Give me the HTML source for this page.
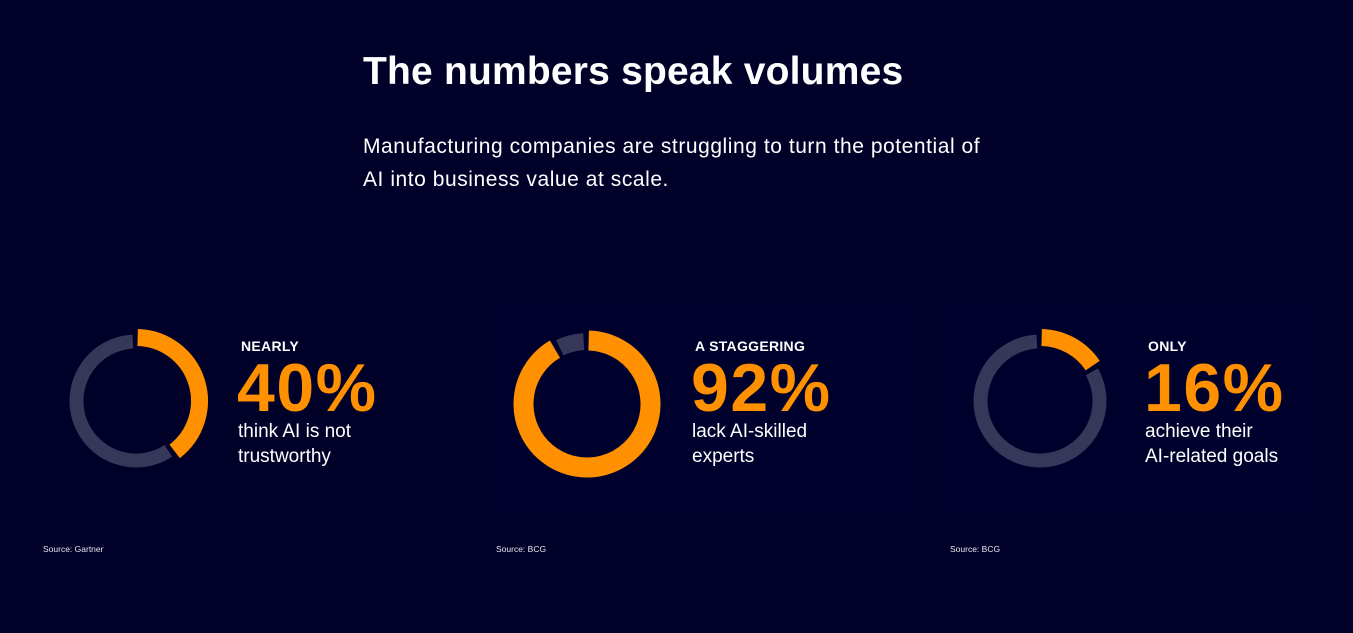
<!DOCTYPE html>
<html><head><meta charset="utf-8">
<style>
html,body{margin:0;padding:0;background:#000028;width:1353px;height:633px;overflow:hidden;font-family:"Liberation Sans",sans-serif;color:#fff}
.abs{position:absolute}
h1{position:absolute;left:363px;top:50px;margin:0;font-size:39px;font-weight:bold;letter-spacing:0.2px}
.intro{position:absolute;left:363px;top:130px;margin:0;font-size:21px;line-height:33px;width:625px;letter-spacing:0.55px}
.lbl{position:absolute;font-size:14px;font-weight:bold;letter-spacing:0.3px}
.big{position:absolute;font-size:68px;font-weight:bold;color:#ff9000;line-height:68px;letter-spacing:1.5px}
.desc{position:absolute;font-size:19px;line-height:25px}
.src{position:absolute;font-size:8.5px;color:#e8e8f0}
.panel{position:absolute;background:#00002c}
</style></head><body>
<h1>The numbers speak volumes</h1>
<p class="intro">Manufacturing companies are struggling to turn the potential of AI into business value at scale.</p>
<div class="panel" style="left:492px;top:305px;width:420px;height:208px"></div>
<div class="panel" style="left:945px;top:305px;width:378px;height:208px"></div>
<svg id="donuts" class="abs" style="left:0;top:0" width="1353" height="633"></svg>
<div id="texts"></div>
<script>
const values=[40,92,16];
const leads=["NEARLY","A STAGGERING","ONLY"];
const bigLabels=["40%","92%","16%"];
const descs=[["think AI is not","trustworthy"],["lack AI-skilled","experts"],["achieve their","AI-related goals"]];
const sources=["Source: Gartner","Source: BCG","Source: BCG"];
const cxs=[136,587,1040], cy=[401,404,401], txs=[238,692,1145], srcX=[43,496,950];
const NS="http://www.w3.org/2000/svg";
const svg=document.getElementById('donuts');
function pt(cx,cy,r,deg){const a=(deg-90)*Math.PI/180;return [cx+r*Math.cos(a),cy+r*Math.sin(a)];}
function arc(cx,cy,r,a0,a1,w,color,name){
  const p0=pt(cx,cy,r,a0),p1=pt(cx,cy,r,a1);const large=(a1-a0)>180?1:0;
  const p=document.createElementNS(NS,'path');
  p.setAttribute('d',`M${p0[0]} ${p0[1]} A${r} ${r} 0 ${large} 1 ${p1[0]} ${p1[1]}`);
  p.setAttribute('fill','none');p.setAttribute('stroke',color);p.setAttribute('stroke-width',w);
  
  
  svg.appendChild(p);
}
const texts=document.getElementById('texts');
values.forEach((v,i)=>{
  const deg=v*3.6,gap=3;
  const big=i===1;
  arc(cxs[i],cy[i],big?62.5:59.5,deg+gap,360-gap,big?17:14,'#37375a','donut-remainder-'+(i+1));
  arc(cxs[i],cy[i],big?63.5:63.5,gap/2,deg-gap/2,big?20:17,'#ff9000','donut-value-'+(i+1));
  let d=document.createElement('div');d.className='lbl';d.style.left=(txs[i]+3)+'px';d.style.top='338px';d.textContent=leads[i];
  
  texts.appendChild(d);
  d=document.createElement('div');d.className='big';d.style.left=(txs[i]-1)+'px';d.style.top='354px';d.textContent=bigLabels[i];
  
  texts.appendChild(d);
  d=document.createElement('div');d.className='desc';d.style.left=txs[i]+'px';d.style.top='419px';d.innerHTML=descs[i].join('<br>');
  
  texts.appendChild(d);
  d=document.createElement('div');d.className='src';d.style.left=srcX[i]+'px';d.style.top='544px';d.textContent=sources[i];
  
  texts.appendChild(d);
});
</script>
</body></html>
